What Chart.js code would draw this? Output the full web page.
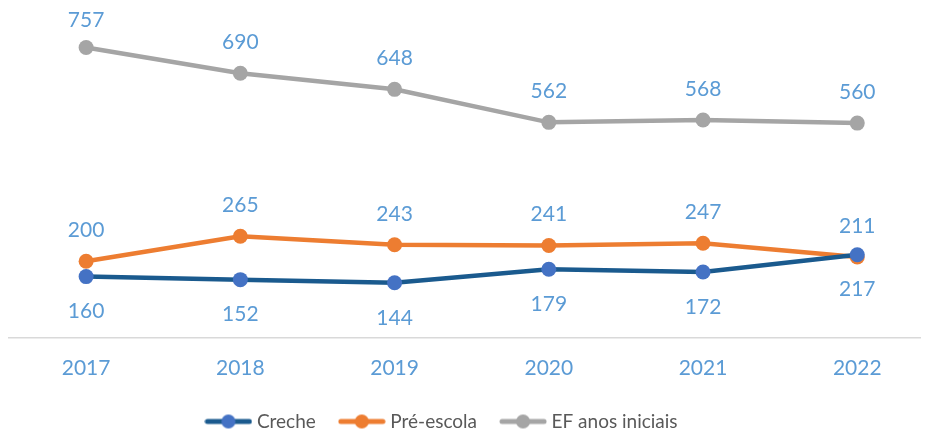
<!DOCTYPE html>
<html>
<head>
<meta charset="UTF-8">
<title>Matrículas por etapa</title>
<script src="https://cdn.jsdelivr.net/npm/chart.js@4"></script>
<style>
    html, body { margin: 0; padding: 0; background: #fff; overflow: hidden; }
    #chartBox { width: 928px; height: 433px; }
</style>
</head>
<body>
<div id="chartBox">
    <canvas id="matriculasChart" width="928" height="433"></canvas>
</div>
<script>
    // Values
    const years = [2017, 2018, 2019, 2020, 2021, 2022];
    const seriesNames = ['Creche', 'Pré-escola', 'EF anos iniciais'];
    const creche = [160, 152, 144, 179, 172, 217];
    const preEscola = [200, 265, 243, 241, 247, 211];
    const efIniciais = [757, 690, 648, 562, 568, 560];

    const labelColor = '#5B9BD5';
    const fontFamily = 'Lato, "Open Sans", sans-serif';

    // small legend icon: line with a dot in the middle
    function legendIcon(lineColor, dotColor) {
        const c = document.createElement('canvas');
        c.width = 48; c.height = 16;
        const g = c.getContext('2d');
        g.strokeStyle = lineColor;
        g.lineWidth = 5;
        g.lineCap = 'round';
        g.beginPath(); g.moveTo(3, 8); g.lineTo(45, 8); g.stroke();
        g.fillStyle = dotColor;
        g.beginPath(); g.arc(24, 8, 7, 0, Math.PI * 2); g.fill();
        return c;
    }

    // draws the value above or below each point
    const valueLabels = {
        id: 'valueLabels',
        afterLayout(chart) {
            // legend sits a bit left of the centre in the original
            if (chart.legend) chart.legend.right -= 50;
        },
        afterDatasetsDraw(chart) {
            const ctx = chart.ctx;
            ctx.save();
            ctx.font = '21px ' + fontFamily;
            ctx.fillStyle = labelColor;
            ctx.textAlign = 'center';
            ctx.textBaseline = 'middle';
            chart.data.datasets.forEach((ds, i) => {
                const meta = chart.getDatasetMeta(i);
                meta.data.forEach((pt, j) => {
                    const dy = ds.labelBelow ? 35 : -31;
                    const y = Math.max(pt.y + dy, 20); // keep inside the top like Excel does
                    ctx.fillText(String(ds.data[j].y), pt.x, y);
                });
            });
            ctx.restore();
        }
    };

    function toPoints(values) {
        return values.map((v, i) => ({ x: years[i], y: v }));
    }

    const ctx = document.getElementById('matriculasChart').getContext('2d');
    new Chart(ctx, {
        type: 'line',
        data: {
            datasets: [{
                label: seriesNames[0],
                data: toPoints(creche),
                borderColor: '#1A5A8E',
                backgroundColor: '#4472C4',
                pointBackgroundColor: '#4472C4',
                pointBorderWidth: 0,
                labelBelow: true,
                legendIcon: legendIcon('#1A5A8E', '#4472C4')
            }, {
                label: seriesNames[1],
                data: toPoints(preEscola),
                borderColor: '#ED7D31',
                backgroundColor: '#ED7D31',
                pointBackgroundColor: '#ED7D31',
                pointBorderWidth: 0,
                labelBelow: false,
                legendIcon: legendIcon('#ED7D31', '#ED7D31')
            }, {
                label: seriesNames[2],
                data: toPoints(efIniciais),
                borderColor: '#A5A5A5',
                backgroundColor: '#A5A5A5',
                pointBackgroundColor: '#A5A5A5',
                pointBorderWidth: 0,
                labelBelow: false,
                legendIcon: legendIcon('#A5A5A5', '#A5A5A5')
            }]
        },
        options: {
            responsive: false,
            animation: false,
            maintainAspectRatio: false,
            elements: {
                line: { borderWidth: 4.5, tension: 0 },
                point: { radius: 7.5, hoverRadius: 7.5, pointStyle: 'circle' }
            },
            layout: { padding: { left: 9, right: 0, top: 31, bottom: -8 } },
            scales: {
                x: {
                    type: 'linear',
                    min: 2016.5,
                    max: 2022.41,
                    afterBuildTicks: (scale) => { scale.ticks = years.map(v => ({ value: v })); },
                    afterFit: (scale) => { scale.height = 47; },
                    grid: { display: false, drawTicks: false },
                    border: { display: true, color: '#D9D9D9', width: 1.5 },
                    ticks: {
                        color: labelColor,
                        padding: 18,
                        font: { family: fontFamily, size: 21 },
                        callback: (v) => String(v),
                        maxRotation: 0
                    }
                },
                y: {
                    display: false,
                    min: 0,
                    max: 800
                }
            },
            plugins: {
                tooltip: { enabled: false },
                legend: {
                    position: 'bottom',
                    labels: {
                        usePointStyle: true,
                        pointStyleWidth: 38,
                        color: '#595959',
                        padding: 27,
                        font: { family: fontFamily, size: 19 },
                        generateLabels: (chart) => chart.data.datasets.map((ds, i) => ({
                            text: ds.label,
                            pointStyle: ds.legendIcon,
                            fillStyle: ds.backgroundColor,
                            strokeStyle: ds.borderColor,
                            lineWidth: 0,
                            fontColor: '#595959',
                            datasetIndex: i
                        }))
                    }
                }
            }
        },
        plugins: [valueLabels]
    });
</script>
</body>
</html>
